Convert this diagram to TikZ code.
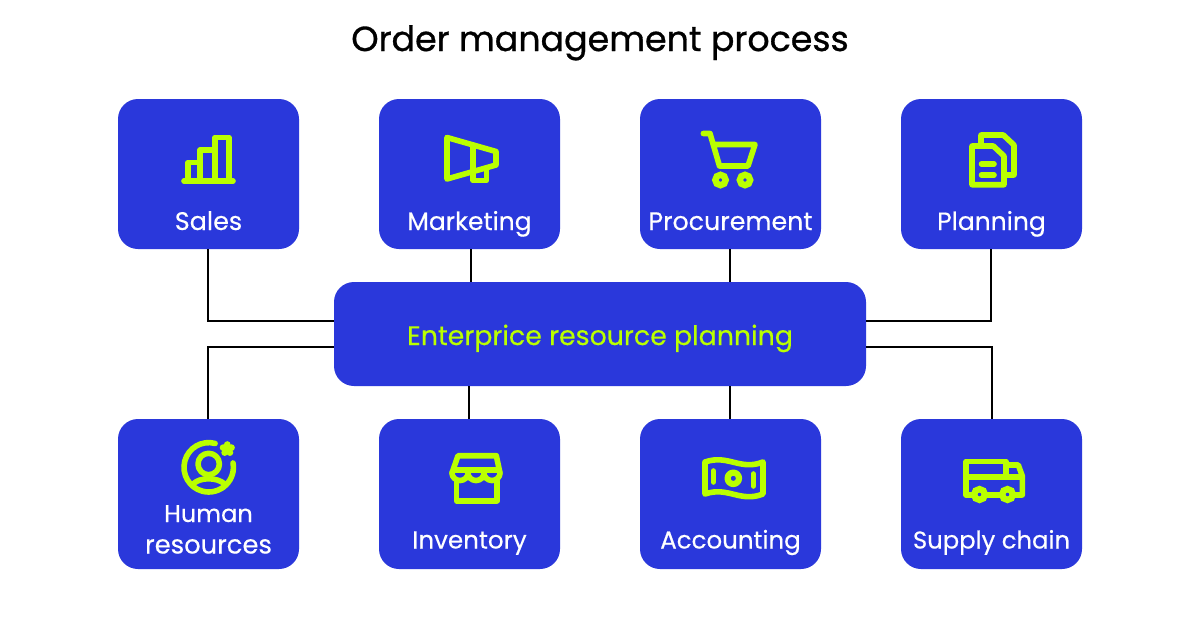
\documentclass[tikz,border=0pt]{standalone}
\usepackage{fontspec}
\setmainfont{Poppins}
\newfontfamily\semifont[FakeBold=0.35]{Poppins}
\newfontfamily\heavyfont[FakeBold=0.9]{Poppins}
\definecolor{boxblue}{HTML}{2A38DB}
\definecolor{lime}{HTML}{BAFF00}
\tikzset{
  x=1pt,y=-1pt,
  unitbox/.style={draw=none,fill=boxblue,rounded corners=20pt,minimum width=181pt,minimum height=150pt,inner sep=0pt},
  hubbox/.style={draw=none,fill=boxblue,rounded corners=20pt,minimum width=532pt,minimum height=104pt,inner sep=0pt},
  unitlabel/.style={text=white,font=\semifont\fontsize{#1}{29}\selectfont,anchor=base,inner sep=0pt},
  unitlabel/.default=25,
  hublabel/.style={text=lime,font=\semifont\fontsize{26.8}{30}\selectfont,anchor=base,inner sep=0pt},
  titlelabel/.style={text=black,font=\heavyfont\fontsize{34.8}{40}\selectfont,anchor=base,inner sep=0pt},
  link/.style={draw=black,line width=2pt},
  glyph/.style={draw=lime,line width=5.6pt,line cap=round,line join=round},
  wheel/.style={draw=lime,line width=6.4pt,fill=boxblue},
}
\begin{document}
\begin{tikzpicture}
\useasboundingbox[fill=white] (0,0) rectangle (1200,630);
\node[titlelabel] (title) at (600,51) {Order management process};
\node[unitbox] (sales) at (208.5,174) {};
\node[unitbox] (mark) at (469.5,174) {};
\node[unitbox] (proc) at (730.5,174) {};
\node[unitbox] (plan) at (991.5,174) {};
\node[unitbox] (hr) at (208.5,494) {};
\node[unitbox] (inv) at (469.5,494) {};
\node[unitbox] (acc) at (730.5,494) {};
\node[unitbox] (sup) at (991.5,494) {};
\node[hubbox] (erp) at (600,334) {};
\draw[link] ([xshift=-.5pt]sales.south) |- ([yshift=13pt]erp.west);
\draw[link] ([xshift=1.5pt]mark.south) -- ([xshift=1.5pt]mark.south |- erp.north);
\draw[link] ([xshift=-.5pt]proc.south) -- ([xshift=-.5pt]proc.south |- erp.north);
\draw[link] ([xshift=-.5pt]plan.south) |- ([yshift=13pt]erp.east);
\draw[link] ([xshift=-.5pt]hr.north) |- ([yshift=-13pt]erp.west);
\draw[link] ([xshift=-.5pt]inv.north) -- ([xshift=-.5pt]inv.north |- erp.south);
\draw[link] ([xshift=-.5pt]acc.north) -- ([xshift=-.5pt]acc.north |- erp.south);
\draw[link] ([xshift=.5pt]sup.north) |- ([yshift=-13pt]erp.east);
\node[hublabel] (erpl) at (600,345) {Enterprice resource planning};
\node[unitlabel=25.4] (l1) at (208.5,230) {Sales};
\node[unitlabel] (l2) at (469.5,230) {Marketing};
\node[unitlabel=25.3] (l3) at (730.5,230) {Procurement};
\node[unitlabel] (l4) at (991.5,230) {Planning};
\node[unitlabel=24.1] (l5) at (208.5,522) {Human};
\node[unitlabel=25.8] (l5b) at (208.5,553.5) {resources};
\node[unitlabel=24.6] (l6) at (469.5,548.5) {Inventory};
\node[unitlabel=24.5] (l7) at (730.5,548.5) {Accounting};
\node[unitlabel=24.3] (l8) at (991.5,548.5) {Supply chain};
% sales
\begin{scope}[shift={(118,99)}]
\draw[glyph] (66,82)--(115,82);
\draw[glyph] (70,82)--(70,63.5)--(82,63.5);
\draw[glyph] (82,82)--(82,51)--(97,51);
\draw[glyph] (97,82)--(97,38.5)--(111,38.5)--(111,82);
\end{scope}
% marketing
\begin{scope}[shift={(379,99)}]
\draw[glyph] (68,38.5)--(117,52.5)--(117,66)--(68,80)--cycle;
\draw[glyph] (94,46)--(94,81.5)--(107.5,81.5)--(107.5,70);
\end{scope}
% cart
\begin{scope}[shift={(640,99)}]
\draw[glyph] (63.3,34.5)--(70,34.5)--(79.5,67)--(108,67)--(115,45.5)--(74,45.5);
\draw[wheel] (80.5,81) circle (5.2);
\draw[wheel] (105,81) circle (5.2);
\end{scope}
% documents
\begin{scope}[shift={(901,99)}]
\draw[glyph] (71,47)--(92.3,47)--(103,57)--(103,85.7)--(71,85.7)--cycle;
\draw[glyph] (80,45)--(80,36)--(102.3,36)--(113,46)--(113,76)--(103,76);
\draw[glyph] (80.5,65)--(93,65);
\draw[glyph] (80.5,76)--(93,76);
\end{scope}
% human resources
\begin{scope}[shift={(118,419)}]
\draw[glyph] (90.7,48.3) ++(75:24.7 and -24.7) arc[start angle=-75,end angle=-370,radius=24.7];
\draw[glyph] (90.7,45) circle (10.7);
\draw[glyph] (75,65) .. controls (82,58) and (99,58) .. (106.7,65);
\foreach \a in {90,162,234,306,18}
  \fill[lime] (109.3,30) ++(\a:4.4 and -4.4) circle (3.4);
\fill[lime] (109.3,30) circle (3.5);
\end{scope}
% store
\begin{scope}[shift={(379,419)}]
\draw[glyph] (73,54)--(79,36.7)--(117.3,36.7)--(121,54);
\draw[glyph] (75,51)--(119,51);
\draw[glyph] (73,54) arc[start angle=180,end angle=0,x radius=8,y radius=7.5] arc[start angle=180,end angle=0,x radius=8,y radius=7.5] arc[start angle=180,end angle=0,x radius=8,y radius=7.5];
\draw[glyph] (77.5,62)--(77.5,81.7)--(118,81.7)--(118,62);
\end{scope}
% bill
\begin{scope}[shift={(640,419)}]
\draw[glyph] (65,43) .. controls (88,35) and (100,52) .. (123,43) -- (123,75) .. controls (100,84) and (88,67) .. (65,75) -- cycle;
\draw[glyph] (73.3,52)--(73.3,63);
\draw[glyph] (113.3,55)--(113.3,67);
\draw[glyph,line width=6.2pt] (93.3,59.3) circle (5.7);
\end{scope}
% truck
\begin{scope}[shift={(901,419)}]
\draw[glyph] (79,76)--(65,76)--(65,42.5)--(105,42.5)--(105,58);
\draw[glyph] (65,58)--(121,58);
\draw[glyph] (105,46)--(117.3,46)--(121.3,57)--(121.3,76)--(107,76);
\draw[glyph] (79,76)--(107,76);
\draw[wheel] (78.5,75.5) circle (5.4);
\draw[wheel] (106.5,75.5) circle (5.4);
\end{scope}
\end{tikzpicture}
\end{document}
